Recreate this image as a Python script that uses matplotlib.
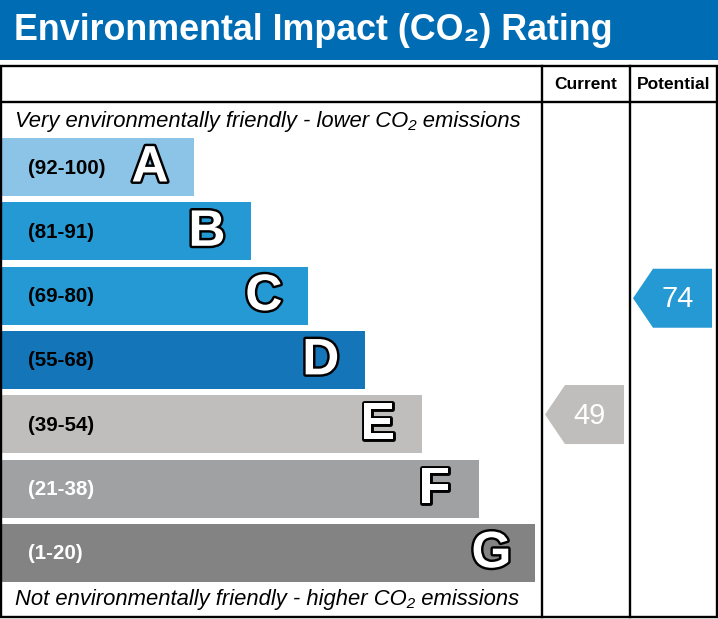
import matplotlib
matplotlib.use("Agg")
import matplotlib.pyplot as plt
from matplotlib.patches import Rectangle, Polygon
import matplotlib.patheffects as pe

plt.rcParams['font.family'] = ['Liberation Sans', 'DejaVu Sans']

# ---- data ----
bands = ['A', 'B', 'C', 'D', 'E', 'F', 'G']
band_ranges = ['(92-100)', '(81-91)', '(69-80)', '(55-68)', '(39-54)', '(21-38)', '(1-20)']
band_lo = [92, 81, 69, 55, 39, 21, 1]
band_hi = [100, 91, 80, 68, 54, 38, 20]
band_colors = ['#8bc4e7', '#2599d3', '#2599d3', '#1476b9', '#bfbebd', '#a0a1a3', '#838383']
label_colors = ['black', 'black', 'black', 'black', 'black', 'white', 'white']
current_value = 49
potential_value = 74
title = 'Environmental Impact (CO\u2082) Rating'
top_note = 'Very environmentally friendly - lower CO\u2082 emissions'
bottom_note = 'Not environmentally friendly - higher CO\u2082 emissions'
col_headers = ['Current', 'Potential']

W, H = 718, 619
fig = plt.figure(figsize=(W / 100, H / 100), dpi=100)
ax = fig.add_axes([0, 0, 1, 1])
ax.set_xlim(0, W)
ax.set_ylim(H, 0)
ax.axis('off')

# header band
ax.add_patch(Rectangle((0, 0), W, 60, facecolor='#006cb4', edgecolor='none'))
ax.text(14, 31, title, color='white', fontsize=25.8, fontweight='bold', ha='left', va='center')

# table frame
box_top, box_bot, box_l, box_r = 66, 617, 1, 716.5
head_bot = 101.5
col1, col2 = 542, 630
lw = 1.7
ax.add_patch(Rectangle((box_l, box_top), box_r - box_l, box_bot - box_top,
                       facecolor='none', edgecolor='black', lw=lw, zorder=5))
ax.plot([box_l, box_r], [head_bot, head_bot], color='black', lw=lw, zorder=5)
ax.plot([col1, col1], [box_top, box_bot], color='black', lw=lw, zorder=5)
ax.plot([col2, col2], [box_top, box_bot], color='black', lw=lw, zorder=5)
ax.text((col1 + col2) / 2, (box_top + head_bot) / 2 + 1, col_headers[0], fontsize=12.5,
        fontweight='bold', ha='center', va='center')
ax.text((col2 + box_r) / 2, (box_top + head_bot) / 2 + 1, col_headers[1], fontsize=12.5,
        fontweight='bold', ha='center', va='center')

ax.text(15, 121.5, top_note, fontsize=15.8, style='italic', ha='left', va='center')
ax.text(15, 599.5, bottom_note, fontsize=15.8, style='italic', ha='left', va='center')

# bands
bar_top0, pitch, bar_h = 138, 64.3, 58
bar_x0, w0, w_step = 2, 192, 56.9
for i, (b, r, c, lc) in enumerate(zip(bands, band_ranges, band_colors, label_colors)):
    y = bar_top0 + i * pitch
    w = w0 + i * w_step
    ax.add_patch(Rectangle((bar_x0, y), w, bar_h, facecolor=c, edgecolor='none'))
    ax.text(28, y + bar_h / 2 + 1, r, fontsize=14.8, fontweight='bold', color=lc,
            ha='left', va='center')
    t = ax.text(bar_x0 + w - 44, y + bar_h / 2 + 1, b, fontsize=37, fontweight='bold',
                color='white', ha='center', va='center')
    t.set_path_effects([pe.withStroke(linewidth=3.5, foreground='black')])


def band_index(v):
    for i, (lo, hi) in enumerate(zip(band_lo, band_hi)):
        if lo <= v <= hi:
            return i
    return len(bands) - 1


def arrow(v, col_left):
    i = band_index(v)
    frac = (band_hi[i] - v) / (band_hi[i] - band_lo[i])
    yc = bar_top0 + i * pitch + frac * bar_h
    ah = 59
    depth = 20
    tip = col_left + 3
    right = tip + 79
    pts = [(tip, yc), (tip + depth, yc - ah / 2), (right, yc - ah / 2),
           (right, yc + ah / 2), (tip + depth, yc + ah / 2)]
    ax.add_patch(Polygon(pts, closed=True, facecolor=band_colors[i], edgecolor='none'))
    ax.text((tip + right) / 2 + 5, yc + 1, str(v), fontsize=21, color='white',
            ha='center', va='center')


arrow(current_value, col1)
arrow(potential_value, col2)

fig.savefig('out.png', dpi=100)
